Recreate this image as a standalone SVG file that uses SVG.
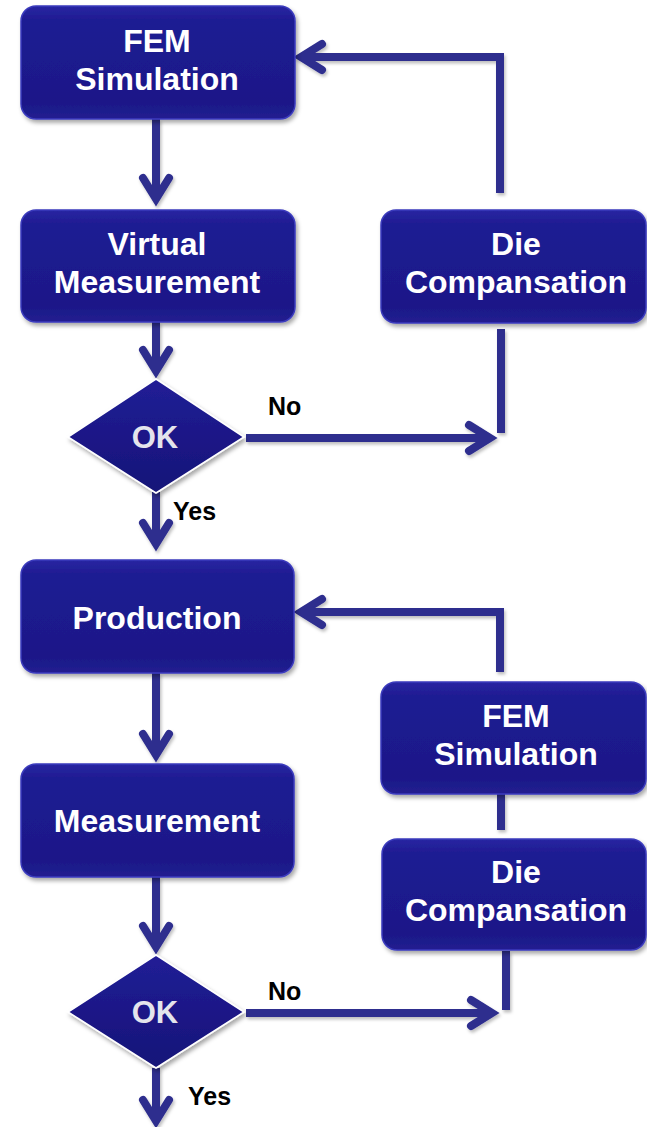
<svg xmlns="http://www.w3.org/2000/svg" width="647" height="1127" viewBox="0 0 647 1127">
<defs>
<linearGradient id="boxg" x1="0" y1="0" x2="0" y2="1">
<stop offset="0" stop-color="#2826a2"/>
<stop offset="0.12" stop-color="#1f1c93"/>
<stop offset="0.85" stop-color="#1b1888"/>
<stop offset="1" stop-color="#221e90"/>
</linearGradient>
<linearGradient id="diag" x1="0" y1="0" x2="0" y2="1">
<stop offset="0" stop-color="#211e96"/>
<stop offset="1" stop-color="#161278"/>
</linearGradient>
<filter id="sh" x="-10%" y="-10%" width="130%" height="130%">
<feDropShadow dx="2" dy="3" stdDeviation="2" flood-color="#000" flood-opacity="0.35"/>
</filter>
<filter id="lsh" filterUnits="userSpaceOnUse" x="0" y="0" width="647" height="1127">
<feDropShadow dx="1.5" dy="2.5" stdDeviation="1.5" flood-color="#000" flood-opacity="0.25"/>
</filter>
<marker id="ah" markerUnits="userSpaceOnUse" markerWidth="44" markerHeight="44" viewBox="-34 -22 44 44" refX="0" refY="0" orient="auto" overflow="visible">
<path d="M-21,-13 L0,0 L-21,13" fill="none" stroke="#2e2e8e" stroke-width="8" stroke-linecap="round" stroke-linejoin="miter"/>
</marker>
</defs>
<style>
.box{fill:url(#boxg);stroke:#3b3bbd;stroke-width:1.5;filter:url(#sh)}
.dia{fill:url(#diag);stroke:#ffffff;stroke-width:1.5;filter:url(#sh)}
.t{font-family:"Liberation Sans",Arial,sans-serif;font-weight:bold;font-size:32px;fill:#ffffff;text-anchor:middle}
.ok{font-family:"Liberation Sans",Arial,sans-serif;font-weight:bold;font-size:31px;fill:#e4e4ec;text-anchor:middle}
.lbl{font-family:"Liberation Sans",Arial,sans-serif;font-weight:bold;font-size:25px;fill:#000000}
.c{fill:none;stroke:#2e2e8e;stroke-width:8;stroke-linejoin:miter}
.a{marker-end:url(#ah)}
</style>
<rect width="647" height="1127" fill="#ffffff"/>
<g id="connectors" filter="url(#lsh)">
<path class="c a" d="M156,119 L156,199"/>
<path class="c a" d="M500,193 L500,57 L301,57"/>
<path class="c" d="M501,329 L501,433"/>
<path class="c a" d="M246,438 L490,438"/>
<path class="c a" d="M156,322 L156,371"/>
<path class="c a" d="M156,492 L156,544"/>
<path class="c a" d="M156,673 L156,755"/>
<path class="c a" d="M500,672 L500,612 L301,612"/>
<path class="c" d="M501,794 L501,830"/>
<path class="c" d="M506,951 L506,1010"/>
<path class="c a" d="M156,877 L156,947"/>
<path class="c a" d="M246,1013 L492,1013"/>
<path class="c a" d="M156,1068 L156,1121"/>
</g>
<g id="n-fem1"><rect class="box" x="21" y="6" width="274" height="113" rx="15"/><text class="t" x="157" y="52">FEM</text><text class="t" x="157" y="90">Simulation</text></g>
<g id="n-virtual"><rect class="box" x="21" y="210" width="274" height="112" rx="15"/><text class="t" x="157" y="255">Virtual</text><text class="t" x="157" y="293">Measurement</text></g>
<g id="n-die1"><rect class="box" x="381" y="210" width="265" height="113" rx="15"/><text class="t" x="516" y="255">Die</text><text class="t" x="516" y="293">Compansation</text></g>
<g id="n-ok1"><polygon class="dia" points="156,379 244,437 156,493 68,437"/><text class="ok" x="155" y="448">OK</text></g>
<g id="n-production"><rect class="box" x="21" y="560" width="273" height="113" rx="15"/><text class="t" x="157" y="629">Production</text></g>
<g id="n-fem2"><rect class="box" x="381" y="682" width="265" height="112" rx="15"/><text class="t" x="516" y="727">FEM</text><text class="t" x="516" y="765">Simulation</text></g>
<g id="n-measurement"><rect class="box" x="21" y="764" width="273" height="113" rx="15"/><text class="t" x="157" y="832">Measurement</text></g>
<g id="n-die2"><rect class="box" x="382" y="839" width="264" height="111" rx="15"/><text class="t" x="516" y="883">Die</text><text class="t" x="516" y="921">Compansation</text></g>
<g id="n-ok2"><polygon class="dia" points="156,955 244,1012 156,1068 68,1012"/><text class="ok" x="155" y="1023">OK</text></g>
<g id="labels">
<text class="lbl" x="268" y="415">No</text>
<text class="lbl" x="173" y="520">Yes</text>
<text class="lbl" x="268" y="1000">No</text>
<text class="lbl" x="188" y="1105">Yes</text>
</g>
</svg>
